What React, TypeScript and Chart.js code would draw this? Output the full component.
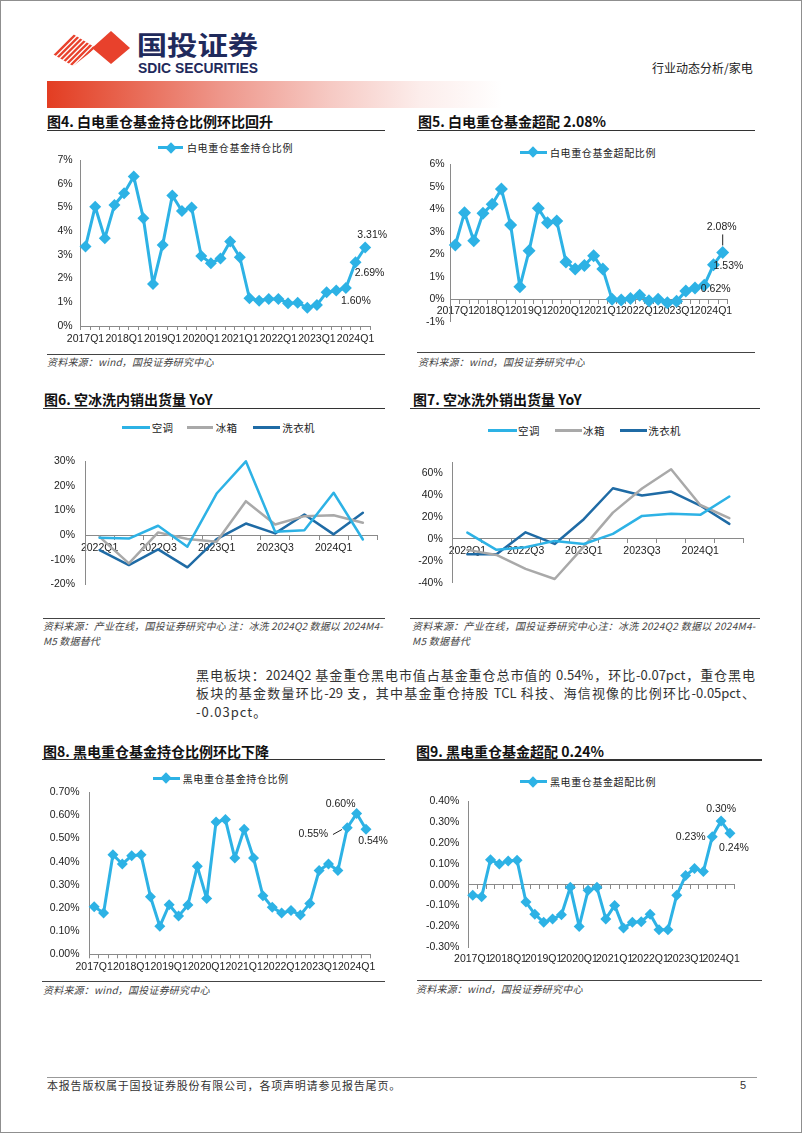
import React, { useEffect, useRef } from "react";
import { Chart, registerables } from "chart.js";

Chart.register(...registerables);

const LATIN = '"Liberation Sans", Arial, sans-serif';
const CJK = '"Noto Sans CJK SC", "Noto Sans", sans-serif';

// ---------- categories ----------
const QUARTERS_LONG = [
  "2017Q1", "2017Q2", "2017Q3", "2017Q4",
  "2018Q1", "2018Q2", "2018Q3", "2018Q4",
  "2019Q1", "2019Q2", "2019Q3", "2019Q4",
  "2020Q1", "2020Q2", "2020Q3", "2020Q4",
  "2021Q1", "2021Q2", "2021Q3", "2021Q4",
  "2022Q1", "2022Q2", "2022Q3", "2022Q4",
  "2023Q1", "2023Q2", "2023Q3", "2023Q4",
  "2024Q1", "2024Q2",
];
const QUARTERS_SHORT = [
  "2022Q1", "2022Q2", "2022Q3", "2022Q4",
  "2023Q1", "2023Q2", "2023Q3", "2023Q4",
  "2024Q1", "2024Q2",
];

// ---------- series (percent) ----------
const WHITE_HOLD = [3.35, 5.03, 3.7, 5.1, 5.6, 6.3, 4.54, 1.77, 3.42, 5.5, 4.85, 5.0, 2.95, 2.65, 2.85, 3.56, 2.9, 1.17, 1.07, 1.14, 1.14, 0.96, 0.98, 0.77, 0.89, 1.42, 1.5, 1.6, 2.69, 3.31];
const WHITE_OVER = [2.41, 3.85, 2.6, 3.82, 4.22, 4.9, 3.3, 0.55, 2.15, 4.04, 3.4, 3.48, 1.66, 1.34, 1.5, 1.93, 1.34, 0.0, -0.03, 0.03, 0.18, -0.07, 0.0, -0.16, -0.09, 0.36, 0.5, 0.62, 1.53, 2.08];
const DOM_AC = [-1.1, -1.4, 3.8, -4.7, 16.9, 30, 1.4, 2.0, 17.2, -1.8];
const DOM_FRIDGE = [-0.7, -11.5, 1.1, -1.6, -2.7, 13.8, 4.3, 7.7, 8.1, 5.0];
const DOM_WASHER = [-6.1, -12.2, -5.8, -13.1, -1.6, 4.7, 0.7, 8.4, 0.3, 9.1];
const EXP_AC = [5.8, -10, -7.6, -1.8, -4.6, 4.6, 21, 22.9, 22, 38.7];
const EXP_FRIDGE = [-10, -14.6, -27.4, -36.6, -7, 24, 46, 63.7, 31, 19];
const EXP_WASHER = [-14, -14, 6, -4.6, 18, 46.3, 39.6, 43.3, 30.5, 13.7];
const BLACK_HOLD = [0.206, 0.178, 0.43, 0.39, 0.426, 0.43, 0.249, 0.121, 0.214, 0.165, 0.213, 0.38, 0.241, 0.572, 0.582, 0.416, 0.54, 0.416, 0.253, 0.203, 0.178, 0.189, 0.17, 0.22, 0.362, 0.39, 0.362, 0.547, 0.608, 0.54];
const BLACK_OVER = [-0.05, -0.058, 0.12, 0.099, 0.114, 0.117, -0.083, -0.141, -0.18, -0.164, -0.144, -0.0125, -0.2, -0.027, -0.0125, -0.164, -0.099, -0.208, -0.18, -0.177, -0.141, -0.216, -0.216, -0.05, 0.044, 0.078, 0.063, 0.23, 0.305, 0.247];

// ---------- styles ----------
const BLUE = "#2DB2E5";
const GRAY = "#A9A9A9";
const NAVY = "#1F6BA5";
const AXIS = "#8a8a8a";
const TXT = "#222";

type Ann = { i: number; text: string; dx: number; dy: number; line?: number[] };
type Series = { label: string; data: number[]; color: string; width: number; marker?: number };
type Spec = {
  left: number; top: number; width: number; height: number;
  labels: string[];
  series: Series[];
  yMin: number; yMax: number; yStep: number; yBounds?: boolean;
  yFmt: (v: number) => string;
  yWidth: number; yPad: number;
  pad: { top: number; right: number; bottom: number };
  xMode: "bottom" | "zero" | "bottomNoLine";
  xHeight?: number; xPad: number; tickEvery: number;
  anns?: Ann[];
};

function annPlugin(anns: Ann[]) {
  return {
    id: "ann",
    afterDatasetsDraw(chart: any) {
      const meta = chart.getDatasetMeta(0);
      const ctx = chart.ctx;
      ctx.save();
      ctx.font = `10.5px ${LATIN}`;
      ctx.fillStyle = TXT;
      ctx.strokeStyle = TXT;
      ctx.lineWidth = 1;
      ctx.textAlign = "center";
      ctx.textBaseline = "middle";
      anns.forEach((a) => {
        const p = meta.data[a.i];
        if (!p) return;
        if (a.line) {
          ctx.beginPath();
          ctx.moveTo(p.x + a.line[0], p.y + a.line[1]);
          ctx.lineTo(p.x + a.line[2], p.y + a.line[3]);
          ctx.stroke();
        }
        ctx.fillText(a.text, p.x + a.dx, p.y + a.dy);
      });
      ctx.restore();
    },
  };
}

function buildConfig(s: Spec): any {
  const tickFont = { family: LATIN, size: 10.5 };
  const datasets = s.series.map((se) => ({
    label: se.label,
    data: se.data,
    borderColor: se.color,
    backgroundColor: se.color,
    borderWidth: se.width,
    pointStyle: "rectRot",
    pointRadius: se.marker || 0,
    pointHoverRadius: se.marker || 0,
    pointBackgroundColor: se.color,
    pointBorderColor: se.color,
    pointBorderWidth: 0,
    tension: 0,
    fill: false,
    borderJoinStyle: "round",
    borderCapStyle: "round",
    clip: false,
  }));
  const tickCb = (_v: any, i: number) => (i % s.tickEvery === 0 ? s.labels[i] : "");
  const xGridTicks = { display: true, offset: true, drawOnChartArea: false, drawTicks: true, tickLength: 4, color: AXIS, lineWidth: 1 };
  const scales: any = {
    x: {
      type: "category",
      offset: true,
      position: s.xMode === "zero" ? { y: 0 } : "bottom",
      grid: s.xMode === "bottomNoLine" ? { display: false, drawTicks: false } : xGridTicks,
      border: { display: s.xMode !== "bottomNoLine", color: AXIS, width: 1 },
      ticks: {
        autoSkip: false, maxRotation: 0, minRotation: 0, padding: s.xPad,
        color: TXT, font: tickFont, callback: tickCb,
      },
      afterFit: (sc: any) => { if (s.xHeight != null) sc.height = s.xHeight; },
    },
    y: {
      type: "linear",
      min: s.yMin,
      max: s.yMax,
      grid: { display: false, drawTicks: false },
      border: { display: true, color: AXIS, width: 1 },
      ticks: {
        stepSize: s.yStep, padding: s.yPad, color: TXT, font: tickFont,
        includeBounds: s.yBounds !== false,
        callback: (v: any) => s.yFmt(Number(v)),
      },
      afterFit: (sc: any) => { sc.width = s.yWidth; },
    },
  };
  if (s.xMode === "bottomNoLine") {
    scales.x2 = {
      type: "category",
      axis: "x",
      labels: s.labels,
      offset: true,
      position: { y: 0 },
      grid: xGridTicks,
      border: { display: true, color: AXIS, width: 1 },
      ticks: { display: false },
    };
  }
  return {
    type: "line",
    data: { labels: s.labels, datasets },
    options: {
      responsive: false,
      animation: false,
      events: [],
      layout: { padding: { left: 0, top: s.pad.top, right: s.pad.right, bottom: s.pad.bottom } },
      plugins: { legend: { display: false }, tooltip: { enabled: false }, title: { display: false } },
      scales,
    },
    plugins: [annPlugin(s.anns || [])],
  };
}

function LineChart({ spec }: { spec: Spec }) {
  const ref = useRef<HTMLCanvasElement>(null);
  useEffect(() => {
    const chart = new Chart(ref.current as HTMLCanvasElement, buildConfig(spec));
    return () => chart.destroy();
  }, []);
  return (
    <canvas
      ref={ref}
      width={spec.width}
      height={spec.height}
      style={{ position: "absolute", left: spec.left, top: spec.top, width: spec.width, height: spec.height }}
    />
  );
}

// ---------- chart specs ----------
const pct0 = (v: number) => (Math.abs(v - Math.round(v)) < 1e-6 ? `${Math.round(v)}%` : "");
const pct2 = (v: number) => `${v.toFixed(2)}%`;

const SPEC4: Spec = {
  left: 40, top: 140, width: 355, height: 212, labels: QUARTERS_LONG,
  series: [{ label: "白电重仓基金持仓比例", data: WHITE_HOLD, color: BLUE, width: 3, marker: 6 }],
  yMin: 0, yMax: 7, yStep: 1, yFmt: pct0, yWidth: 40.7, yPad: 8,
  pad: { top: 20, right: 25, bottom: 0 }, xMode: "bottom", xHeight: 26, xPad: 3, tickEvery: 4,
  anns: [
    { i: 29, text: "3.31%", dx: 7, dy: -12.5 },
    { i: 28, text: "2.69%", dx: 14, dy: 11 },
    { i: 27, text: "1.60%", dx: 10, dy: 13 },
  ],
};
const SPEC5: Spec = {
  left: 410, top: 140, width: 355, height: 200, labels: QUARTERS_LONG,
  series: [{ label: "白电重仓基金超配比例", data: WHITE_OVER, color: BLUE, width: 3, marker: 6.5 }],
  yMin: -1, yMax: 6, yStep: 1, yFmt: pct0, yWidth: 40.7, yPad: 6,
  pad: { top: 24.3, right: 37.7, bottom: 18.3 }, xMode: "zero", xPad: 2, tickEvery: 4,
  anns: [
    { i: 29, text: "2.08%", dx: -1, dy: -25.6, line: [0, -18, 0, -7] },
    { i: 28, text: "1.53%", dx: 15, dy: 1 },
    { i: 27, text: "0.62%", dx: 11.5, dy: 4 },
  ],
};
const SPEC6: Spec = {
  left: 40, top: 445, width: 345, height: 160, labels: QUARTERS_SHORT,
  series: [
    { label: "空调", data: DOM_AC, color: BLUE, width: 2.5 },
    { label: "冰箱", data: DOM_FRIDGE, color: GRAY, width: 2.5 },
    { label: "洗衣机", data: DOM_WASHER, color: NAVY, width: 2.5 },
  ],
  yMin: -20, yMax: 30, yStep: 10, yFmt: pct0, yWidth: 45, yPad: 10,
  pad: { top: 16, right: 7.5, bottom: 20.7 }, xMode: "zero", xPad: 3, tickEvery: 2,
};
const SPEC7: Spec = {
  left: 410, top: 445, width: 350, height: 160, labels: QUARTERS_SHORT,
  series: [
    { label: "空调", data: EXP_AC, color: BLUE, width: 2.5 },
    { label: "冰箱", data: EXP_FRIDGE, color: GRAY, width: 2.5 },
    { label: "洗衣机", data: EXP_WASHER, color: NAVY, width: 2.5 },
  ],
  yMin: -40, yMax: 70, yStep: 20, yBounds: false, yFmt: (v) => (v > 65 ? "" : pct0(v)), yWidth: 42.8, yPad: 10,
  pad: { top: 17.3, right: 16.1, bottom: 22.3 }, xMode: "zero", xPad: 2, tickEvery: 2,
};
const SPEC8: Spec = {
  left: 40, top: 776, width: 355, height: 204, labels: QUARTERS_LONG,
  series: [{ label: "黑电重仓基金持仓比例", data: BLACK_HOLD, color: BLUE, width: 3, marker: 5.5 }],
  yMin: 0, yMax: 0.7, yStep: 0.1, yFmt: pct2, yWidth: 49.5, yPad: 10,
  pad: { top: 14, right: 24.3, bottom: 0 }, xMode: "bottom", xHeight: 25.7, xPad: 3, tickEvery: 4,
  anns: [
    { i: 28, text: "0.60%", dx: -16, dy: -9 },
    { i: 27, text: "0.55%", dx: -34, dy: 6.4, line: [-14.3, 6.8, -5.3, 1.8] },
    { i: 29, text: "0.54%", dx: 7, dy: 12 },
  ],
};
const SPEC9: Spec = {
  left: 410, top: 786, width: 350, height: 194, labels: QUARTERS_LONG,
  series: [{ label: "黑电重仓基金超配比例", data: BLACK_OVER, color: BLUE, width: 3, marker: 5.5 }],
  yMin: -0.3, yMax: 0.4, yStep: 0.1, yFmt: pct2, yWidth: 58.3, yPad: 9,
  pad: { top: 12.3, right: 25.6, bottom: 0 }, xMode: "bottomNoLine", xHeight: 32.7, xPad: 6, tickEvery: 4,
  anns: [
    { i: 28, text: "0.30%", dx: 0, dy: -12.3 },
    { i: 27, text: "0.23%", dx: -21.5, dy: 0.7 },
    { i: 29, text: "0.24%", dx: 4, dy: 15 },
  ],
};

// ---------- page pieces ----------
type TxtProps = {
  x: number; cy: number; size: number; children: any; bold?: boolean; italic?: boolean;
  color?: string; ls?: number; family?: string; width?: number; justify?: boolean;
};
function Txt({ x, cy, size, children, bold, italic, color, ls, family, width, justify }: TxtProps) {
  const h = Math.round(size * 1.5);
  return (
    <div
      style={{
        position: "absolute", left: x, top: cy - h / 2, height: h, lineHeight: `${h}px`,
        fontSize: size, fontFamily: family || CJK, fontWeight: bold ? 700 : 400,
        fontStyle: italic ? "italic" : "normal", color: color || TXT, letterSpacing: ls || 0,
        whiteSpace: "nowrap", width: width,
        textAlign: justify ? "justify" : "left", textAlignLast: justify ? "justify" : "auto",
      } as any}
    >
      {children}
    </div>
  );
}

function HLine({ x1, x2, y, w, color }: { x1: number; x2: number; y: number; w: number; color: string }) {
  return <div style={{ position: "absolute", left: x1, top: y - w / 2, width: x2 - x1, height: w, background: color }} />;
}

function DiamondLegend({ x1, x2, y, tx, text }: { x1: number; x2: number; y: number; tx: number; text: string }) {
  return (
    <>
      <div style={{ position: "absolute", left: x1, top: y - 1.5, width: x2 - x1, height: 3, background: BLUE }} />
      <div style={{ position: "absolute", left: (x1 + x2) / 2 - 4, top: y - 4, width: 8, height: 8, background: BLUE, transform: "rotate(45deg)" }} />
      <Txt x={tx} cy={y} size={10} ls={0.6}>{text}</Txt>
    </>
  );
}

function LinesLegend({ y, items }: { y: number; items: { x1: number; x2: number; tx: number; text: string; color: string }[] }) {
  return (
    <>
      {items.map((it) => (
        <React.Fragment key={it.text}>
          <div style={{ position: "absolute", left: it.x1, top: y - 1.25, width: it.x2 - it.x1, height: 2.5, background: it.color }} />
          <Txt x={it.tx} cy={y} size={10.5} ls={0.4}>{it.text}</Txt>
        </React.Fragment>
      ))}
    </>
  );
}

function Logo() {
  const stripes = [];
  for (let k = 0; k < 9; k++) {
    const x0 = 40 + k * 5.2;
    stripes.push(<line key={k} x1={x0} y1={70} x2={x0 + 40} y2={30} stroke="#E8412C" strokeWidth={2.3} />);
  }
  return (
    <svg width={300} height={80} style={{ position: "absolute", left: 0, top: 0 }}>
      <defs>
        <clipPath id="stripeClip">
          <polygon points="46,50 68,31 96,48 73,66" />
        </clipPath>
      </defs>
      <g clipPath="url(#stripeClip)">{stripes}</g>
      <polygon points="92,48 111,31 130,48 111,64" fill="#E8412C" />
      <text x={136.7} y={55} fontFamily={CJK} fontWeight={700} fontSize={26} fill="#1F2A5C" textLength={121.6} lengthAdjust="spacingAndGlyphs">国投证券</text>
      <text x={138} y={72.7} fontFamily={LATIN} fontWeight={700} fontSize={15} fill="#1F2A5C" textLength={120} lengthAdjust="spacingAndGlyphs">SDIC SECURITIES</text>
    </svg>
  );
}

export default function App() {
  return (
    <div style={{ position: "absolute", left: 0, top: 0, width: 802, height: 1133, background: "#fff", overflow: "hidden", boxSizing: "border-box", border: "1px solid #8f8f8f" }}>
      <div style={{ position: "absolute", left: -1, top: -1, width: 802, height: 1133 }}>
        {/* header */}
        <Logo />
        <Txt x={652} cy={68} size={12} color="#222">行业动态分析/家电</Txt>
        <div style={{ position: "absolute", left: 47, top: 81, width: 455, height: 27, background: "linear-gradient(to right, #E33D22 0%, #E7604A 15%, #EE968A 38%, #F6C9C3 62%, #FCEDEB 82%, #ffffff 100%)" }} />

        {/* Fig 4 */}
        <Txt x={47} cy={121.7} size={14} bold color="#111">图4. 白电重仓基金持仓比例环比回升</Txt>
        <HLine x1={47} x2={385} y={130.7} w={1.6} color="#333" />
        <DiamondLegend x1={158} x2={183} y={147.7} tx={187} text="白电重仓基金持仓比例" />
        <LineChart spec={SPEC4} />
        <HLine x1={47} x2={385} y={354.3} w={1.2} color="#444" />
        <Txt x={47} cy={361.7} size={10} italic color="#444" ls={0.2}>资料来源：wind，国投证券研究中心</Txt>

        {/* Fig 5 */}
        <Txt x={418} cy={121.7} size={14} bold color="#111">图5. 白电重仓基金超配 2.08%</Txt>
        <HLine x1={417} x2={755} y={130.7} w={1.6} color="#333" />
        <DiamondLegend x1={520} x2={546.7} y={152.3} tx={550} text="白电重仓基金超配比例" />
        <LineChart spec={SPEC5} />
        <HLine x1={417} x2={755} y={352.7} w={1.2} color="#444" />
        <Txt x={418} cy={361.7} size={10} italic color="#444" ls={0.2}>资料来源：wind，国投证券研究中心</Txt>

        {/* Fig 6 */}
        <Txt x={44} cy={399} size={14} bold color="#111">图6. 空冰洗内销出货量 YoY</Txt>
        <HLine x1={43} x2={385} y={408.3} w={1.6} color="#333" />
        <LinesLegend y={427.7} items={[
          { x1: 121.7, x2: 150, tx: 151.7, text: "空调", color: BLUE },
          { x1: 186.7, x2: 213.3, tx: 215.7, text: "冰箱", color: GRAY },
          { x1: 253.3, x2: 280, tx: 282.3, text: "洗衣机", color: NAVY },
        ]} />
        <LineChart spec={SPEC6} />
        <HLine x1={43} x2={385} y={618.3} w={1.2} color="#444" />
        <Txt x={43} cy={625} size={10} italic color="#444" ls={0.15}>资料来源：产业在线，国投证券研究中心 注：冰洗 2024Q2 数据以 2024M4-</Txt>
        <Txt x={43} cy={640} size={10} italic color="#444" ls={0.15}>M5 数据替代</Txt>

        {/* Fig 7 */}
        <Txt x={413} cy={399} size={14} bold color="#111">图7. 空冰洗外销出货量 YoY</Txt>
        <HLine x1={410} x2={760} y={408.3} w={1.6} color="#333" />
        <LinesLegend y={430.7} items={[
          { x1: 488, x2: 516.7, tx: 518, text: "空调", color: BLUE },
          { x1: 555, x2: 581.7, tx: 583, text: "冰箱", color: GRAY },
          { x1: 620, x2: 646.7, tx: 648.3, text: "洗衣机", color: NAVY },
        ]} />
        <LineChart spec={SPEC7} />
        <HLine x1={410} x2={760} y={618.3} w={1.2} color="#444" />
        <Txt x={412} cy={625} size={10} italic color="#444" ls={0.3}>资料来源：产业在线，国投证券研究中心注：冰洗 2024Q2 数据以 2024M4-</Txt>
        <Txt x={412} cy={640} size={10} italic color="#444" ls={0.3}>M5 数据替代</Txt>

        {/* paragraph */}
        <Txt x={196} cy={675} size={13} color="#333" width={559} justify>黑电板块：2024Q2 基金重仓黑电市值占基金重仓总市值的 0.54%，环比-0.07pct，重仓黑电</Txt>
        <Txt x={196} cy={693.3} size={13} color="#333" width={559} justify>板块的基金数量环比-29 支，其中基金重仓持股 TCL 科技、海信视像的比例环比-0.05pct、</Txt>
        <Txt x={196} cy={711.7} size={13} color="#333" ls={1}>-0.03pct。</Txt>

        {/* Fig 8 */}
        <Txt x={43} cy={751} size={14} bold color="#111">图8. 黑电重仓基金持仓比例环比下降</Txt>
        <HLine x1={42} x2={385} y={759.3} w={1.6} color="#333" />
        <DiamondLegend x1={152.7} x2={180} y={778.3} tx={182.7} text="黑电重仓基金持仓比例" />
        <LineChart spec={SPEC8} />
        <HLine x1={42} x2={385} y={981.7} w={1.2} color="#444" />
        <Txt x={43} cy={989.3} size={10} italic color="#444" ls={0.2}>资料来源：wind，国投证券研究中心</Txt>

        {/* Fig 9 */}
        <Txt x={416} cy={751.7} size={14} bold color="#111">图9. 黑电重仓基金超配 0.24%</Txt>
        <HLine x1={417} x2={762} y={760} w={1.6} color="#333" />
        <DiamondLegend x1={520} x2={546.7} y={781.7} tx={550} text="黑电重仓基金超配比例" />
        <LineChart spec={SPEC9} />
        <HLine x1={417} x2={762} y={980.7} w={1.2} color="#444" />
        <Txt x={416} cy={988.3} size={10} italic color="#444" ls={0.2}>资料来源：wind，国投证券研究中心</Txt>

        {/* footer */}
        <HLine x1={47} x2={757} y={1077.3} w={1.5} color="#999" />
        <Txt x={47} cy={1085} size={11} color="#333" ls={0.8}>本报告版权属于国投证券股份有限公司，各项声明请参见报告尾页。</Txt>
        <Txt x={740} cy={1085} size={11} color="#333" family={LATIN}>5</Txt>
      </div>
    </div>
  );
}
